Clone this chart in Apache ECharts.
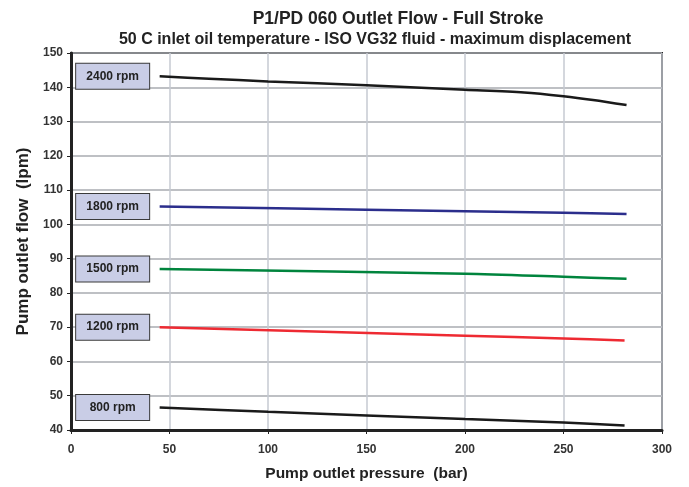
<!DOCTYPE html>
<html><head><meta charset="utf-8">
<script src="https://cdn.jsdelivr.net/npm/echarts@6/dist/echarts.min.js"></script>
<style>html,body{margin:0;padding:0;background:#fff}#c{width:689px;height:487px}</style>
</head><body><div id="c"></div>
<script>
const xTicks = [0, 50, 100, 150, 200, 250, 300];
const yTicks = [40, 50, 60, 70, 80, 90, 100, 110, 120, 130, 140, 150];
const seriesNames = ['2400 rpm', '1800 rpm', '1500 rpm', '1200 rpm', '800 rpm'];
const s2400 = [[45,143.2],[70,142.5],[100,141.7],[150,140.6],[200,139.3],[230,138.5],[250,137.4],[265,136.3],[282,134.8]];
const s1800 = [[45,105.2],[150,104.3],[250,103.4],[282,103.0]];
const s1500 = [[45,87.0],[200,85.6],[250,84.7],[282,84.1]];
const s1200 = [[45,70.0],[200,67.5],[250,66.7],[281,66.1]];
const s800  = [[45,46.6],[100,45.3],[200,43.2],[250,42.2],[281,41.3]];
const seriesData = [s2400, s1800, s1500, s1200, s800];
const colors = ['#1a1a1a', '#2b2e8c', '#00843d', '#ee2a32', '#1a1a1a'];

const font = 'Liberation Sans, Arial, sans-serif';
const chart = echarts.init(document.getElementById('c'), null, {renderer:'canvas'});
chart.setOption({
  animation: false,
  title: [
    {text: 'P1/PD 060 Outlet Flow - Full Stroke', left: 393, top: 5, textAlign: 'center',
     textStyle: {fontFamily: font, fontWeight: 'bold', fontSize: 17.5, color: '#222'}},
    {text: '50 C inlet oil temperature - ISO VG32 fluid - maximum displacement', left: 370, top: 27, textAlign: 'center',
     textStyle: {fontFamily: font, fontWeight: 'bold', fontSize: 16, color: '#222'}}
  ],
  grid: {left: 71, right: 27, top: 53, bottom: 55, show: true, borderColor: '#222', borderWidth: 2},
  xAxis: {
    type: 'value', min: xTicks[0], max: xTicks[xTicks.length-1], interval: 50,
    name: 'Pump outlet pressure  (bar)', nameLocation: 'middle', nameGap: 36,
    nameTextStyle: {fontFamily: font, fontWeight: 'bold', fontSize: 15.5, color: '#222'},
    axisLine: {lineStyle: {color: '#222', width: 3}},
    axisTick: {show: true, length: 4, lineStyle: {color: '#222', width: 1}},
    axisLabel: {fontFamily: font, fontWeight: 'bold', fontSize: 12, color: '#333', margin: 14},
    splitLine: {lineStyle: {color: '#c6cad2', width: 1.5}}
  },
  yAxis: {
    type: 'value', min: yTicks[0], max: yTicks[yTicks.length-1], interval: 10,
    name: 'Pump outlet flow  (lpm)', nameLocation: 'middle', nameGap: 33,
    nameTextStyle: {fontFamily: font, fontWeight: 'bold', fontSize: 17, color: '#222'},
    axisLine: {show: true, lineStyle: {color: '#222', width: 3}},
    axisTick: {show: true, length: 4, lineStyle: {color: '#222', width: 1}},
    axisLabel: {fontFamily: font, fontWeight: 'bold', fontSize: 12, color: '#333', margin: 8},
    splitLine: {lineStyle: {color: '#a8abb0', width: 1.5}}
  },
  series: seriesData.map((d, i) => ({
    type: 'line', name: seriesNames[i], smooth: 0.3,
    showSymbol: true, symbol: 'circle', symbolSize: 1,
    itemStyle: {color: 'rgba(0,0,0,0)'},
    lineStyle: {color: colors[i], width: 2.5},
    data: d.map((p, j) => j === 0 ? {
      value: p,
      label: {
        show: true, position: 'left', distance: 10, formatter: '{a|' + seriesNames[i] + '}',
        backgroundColor: '#c9cde6', borderColor: '#3a3a3a', borderWidth: 1, padding: [6, 6],
        rich: {a: {fontFamily: font, fontWeight: 'bold', fontSize: 12, color: '#222',
                   width: 61, height: 13, lineHeight: 13, align: 'center', verticalAlign: 'middle'}}
      }
    } : p)
  }))
});
</script></body></html>
